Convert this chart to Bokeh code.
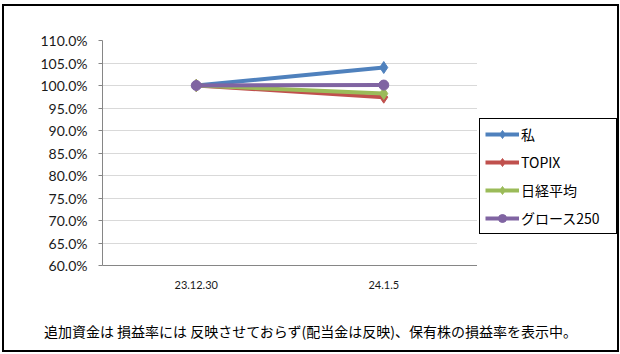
from bokeh.plotting import figure
from bokeh.models import (FactorRange, Range1d, FixedTicker, PrintfTickFormatter,
                          Legend, LegendItem, Div)
from bokeh.layouts import row, column
from bokeh.embed import file_html
from bokeh.resources import INLINE

# ---- data ----
dates = ["23.12.30", "24.1.5"]
series_names = ["私", "TOPIX", "日経平均", "グロース250"]
watashi = [100.0, 104.0]
topix = [100.0, 97.4]
nikkei = [100.0, 98.2]
growth250 = [100.0, 100.1]
y_ticks = [60, 65, 70, 75, 80, 85, 90, 95, 100, 105, 110]
footer = "追加資金は 損益率には 反映させておらず(配当金は反映)、保有株の損益率を表示中。"

colors = ["#4F81BD", "#C0504D", "#9BBB59", "#8064A2"]
markers = ["diamond", "diamond", "diamond", "circle"]
msizes = [12, 12, 12, 10]
values = [watashi, topix, nikkei, growth250]

LATIN = "Lato, 'Noto Sans CJK JP'"
CJK = "'Noto Sans CJK JP', Lato"

# ---- main chart ----
p = figure(width=473, height=294, x_range=FactorRange(*dates), y_range=Range1d(60, 110),
           output_backend="svg", toolbar_location=None, title=None,
           min_border_left=98, min_border_right=0, min_border_top=34, min_border_bottom=35)
p.outline_line_color = None
p.background_fill_color = "white"
p.border_fill_color = "white"

p.yaxis.ticker = FixedTicker(ticks=y_ticks)
p.yaxis.formatter = PrintfTickFormatter(format="%.1f%%")
p.yaxis.axis_line_color = "#868686"
p.yaxis.major_tick_line_color = "#868686"
p.yaxis.major_tick_out = 4
p.yaxis.major_tick_in = 0
p.yaxis.minor_tick_line_color = None
p.yaxis.major_label_text_font = LATIN
p.yaxis.major_label_text_font_size = "14px"
p.yaxis.major_label_text_color = "#1a1a1a"
p.yaxis.major_label_standoff = 11

p.xaxis.axis_line_color = "#868686"
p.xaxis.major_tick_line_color = None
p.xaxis.minor_tick_line_color = None
p.xaxis.major_label_text_font = LATIN
p.xaxis.major_label_text_font_size = "11px"
p.xaxis.major_label_text_color = "#1a1a1a"
p.xaxis.major_label_standoff = 9

p.xgrid.grid_line_color = None
p.ygrid.grid_line_color = "#D9D9D9"
p.ygrid.ticker = FixedTicker(ticks=y_ticks)

for vals, c, m, s in zip(values, colors, markers, msizes):
    p.line(dates, vals, line_color=c, line_width=4)
    p.scatter(dates, vals, marker=m, size=s, fill_color=c, line_color=c)

# ---- legend panel (its own small figure; series drawn out of view) ----
lg = figure(width=140, height=294, x_range=FactorRange(*dates), y_range=Range1d(0, 1),
            output_backend="svg", toolbar_location=None, title=None,
            x_axis_location=None, y_axis_location=None,
            min_border_left=0, min_border_right=0, min_border_top=34, min_border_bottom=35)
lg.outline_line_color = None
lg.grid.grid_line_color = None
lg.background_fill_color = "white"
lg.border_fill_color = "white"

items = []
for name, vals, c, m, s in zip(series_names, values, colors, markers, msizes):
    r1 = lg.line(dates, vals, line_color=c, line_width=4)
    r2 = lg.scatter(dates, vals, marker=m, size=s, fill_color=c, line_color=c)
    items.append(LegendItem(label=name, renderers=[r1, r2]))

legend = Legend(items=items, location=(2, 31), margin=0,
                border_line_color="#000000", border_line_width=1, border_line_alpha=1,
                background_fill_color="white", background_fill_alpha=1,
                padding=5, spacing=8,
                glyph_width=34, glyph_height=20, label_height=20, label_width=90,
                label_standoff=2,
                label_text_font=CJK, label_text_font_size="14px", label_text_color="#000000")
lg.add_layout(legend, "center")

# ---- footer note ----
note = Div(text=footer, width=613, height=50, margin=0,
           styles={"font-family": CJK, "font-size": "14px", "color": "#000000",
                   "text-align": "center", "line-height": "62px", "white-space": "nowrap",
                   "background": "white"})

# ---- outer frame of the chart (thin black border) ----
def bar(w, h, color):
    return Div(text="", width=w, height=h, margin=0,
               styles={"background-color": color})

inner = column(row(p, lg, spacing=0), note, spacing=0)
framed = column(bar(617, 2, "black"),
                row(bar(2, 344, "black"), inner, bar(2, 344, "black"), spacing=0),
                bar(617, 2, "black"), spacing=0)
layout = column(bar(620, 4, "white"),
                row(bar(2, 348, "white"), framed, spacing=0),
                spacing=0, styles={"background": "white"})

open("out.html", "w").write(file_html(layout, INLINE))
